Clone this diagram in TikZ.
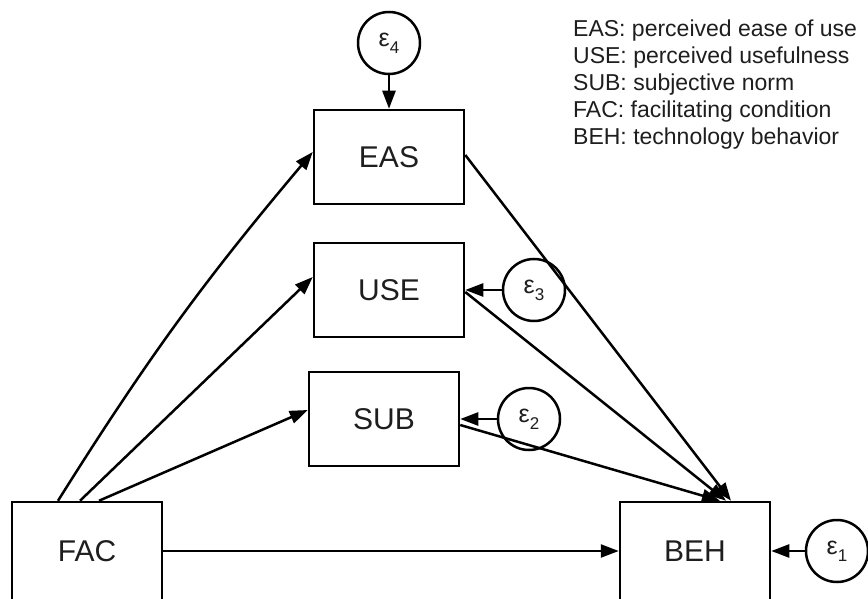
\documentclass[tikz,border=0pt]{standalone}
\usepackage{fontspec}
\setmainfont{Liberation Sans}
\usetikzlibrary{arrows.meta,calc}
\definecolor{txt}{HTML}{1E1E1E}
\newcommand{\errlab}[1]{{\fontsize{25}{25}\selectfont ε}\raisebox{-7pt}{\fontsize{17}{17}\selectfont #1}}
\begin{document}
\begin{tikzpicture}[x=1pt,y=-1pt,
  box/.style={draw=black,line width=2.5pt,minimum width=150pt,minimum height=94pt,inner sep=0pt,text=txt,font=\fontsize{30}{30}\selectfont},
  bigbox/.style={box,minimum height=98pt},
  err/.style={draw=black,circle,line width=2.5pt,minimum size=62pt,inner sep=0pt,text=txt},
  arr/.style={draw=black,line width=2.5pt,-{Triangle[length=18pt,width=13pt]}},
  leg/.style={anchor=base west,inner sep=0pt,text=txt,font=\fontsize{23}{23}\selectfont}]
\useasboundingbox (0,0) rectangle (868,599);
\fill[white] (0,0) rectangle (868,599);
% boxes
\node[box] (EAS) at (389,157) {EAS};
\node[box] (USE) at (389,290) {USE};
\node[box] (SUB) at (384,419) {SUB};
\node[bigbox] (FAC) at (87,551) {FAC};
\node[bigbox] (BEH) at (695,551) {BEH};
% error terms
\node[err] (e4) at (389,43) {\errlab{4}};
\node[err] (e3) at (534,290) {\errlab{3}};
\node[err] (e2) at (529,419) {\errlab{2}};
\node[err] (e1) at (837,551) {\errlab{1}};
% legend
\node[leg] (l1) at (573,37) {EAS: perceived ease of use};
\node[leg] (l2) at (573,64) {USE: perceived usefulness};
\node[leg] (l3) at (573,91) {SUB: subjective norm};
\node[leg] (l4) at (573,118) {FAC: facilitating condition};
\node[leg] (l5) at (573,145) {BEH: technology behavior};
% connectors
\draw[arr] (e4) -- (EAS);
\draw[arr] (e3) -- (USE);
\draw[arr] (e2) -- (SUB);
\draw[arr] (e1) -- (BEH);
\draw[arr] ([xshift=-29pt]FAC.north) to[bend left=4] ([yshift=5pt]EAS.west);
\draw[arr] ([xshift=-7pt]FAC.north) -- ([yshift=13pt]USE.west);
\draw[arr] ([xshift=12pt]FAC.north) -- ([yshift=9pt]SUB.west);
\draw[arr] (FAC) -- (BEH);
\draw[arr] ([yshift=2pt]EAS.east) -- ([xshift=36pt]BEH.north);
\draw[arr] ([yshift=-2pt]USE.east) -- ([xshift=31pt]BEH.north);
\draw[arr] ([yshift=-6pt]SUB.east) -- ([xshift=25pt]BEH.north);
\end{tikzpicture}
\end{document}
